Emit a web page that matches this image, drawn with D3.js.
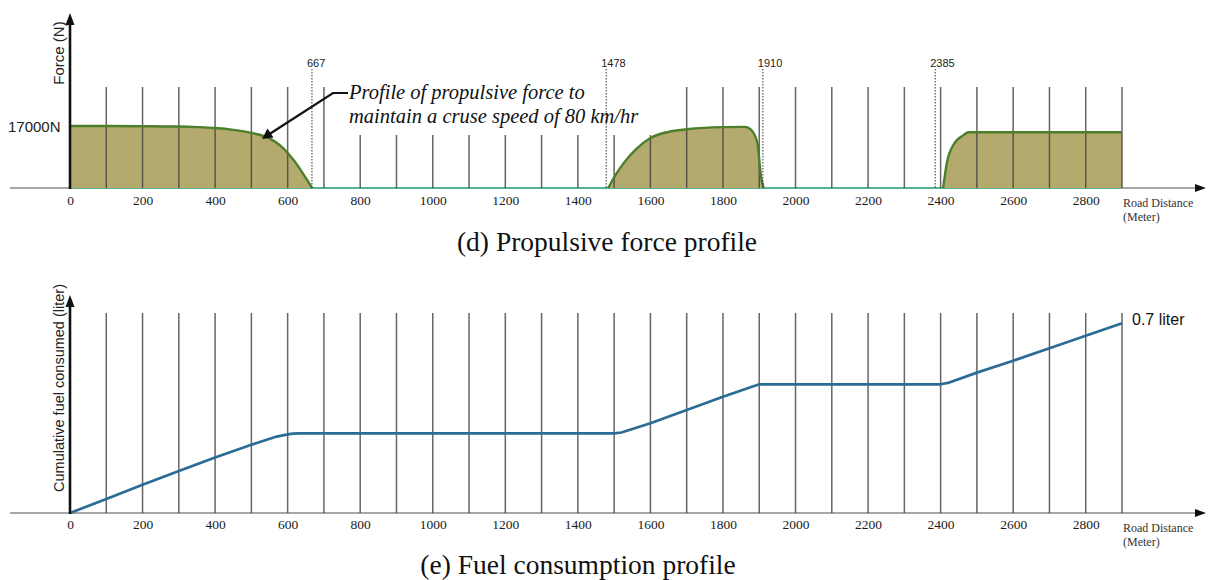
<!DOCTYPE html>
<html>
<head>
<meta charset="utf-8">
<script src="https://cdn.jsdelivr.net/npm/d3@7"></script>
<style>
  html, body { margin: 0; padding: 0; background: #fff; }
  svg { display: block; }
</style>
</head>
<body>
<svg id="chart" width="1208" height="580"></svg>
<script>
// Road distance (m) ticks and grid positions
const xTickValues = [0, 200, 400, 600, 800, 1000, 1200, 1400, 1600, 1800, 2000, 2200, 2400, 2600, 2800];
const gridDistances = [100, 200, 300, 400, 500, 600, 700, 800, 900, 1000, 1100, 1200, 1300, 1400, 1500,
  1600, 1700, 1800, 1900, 2000, 2100, 2200, 2300, 2400, 2500, 2600, 2700, 2800, 2900];

// Distances where propulsion switches on/off
const markerDistances = [667, 1478, 1910, 2385];

// Propulsive force profile (N) along the road
const forceDist = [0, 100, 200, 300, 350, 400, 450, 500, 550, 580, 600, 620, 640, 655, 667,
  1484, 1504, 1530, 1560, 1600, 1650, 1700, 1800, 1860, 1880, 1895, 1905, 1912,
  2407, 2417, 2435, 2463, 2477, 2500, 2900];
const forceVal = [17000, 16990, 16950, 16850, 16700, 16450, 15950, 15100, 13600, 11600, 9600, 7200, 4300, 2000, 0,
  0, 3600, 7300, 10600, 13700, 15400, 16100, 16700, 16750, 15700, 12200, 3100, 0,
  0, 6800, 11800, 14500, 15270, 15300, 15300];

// Cumulative fuel consumed (liter) along the road
const fuelDist = [0, 100, 200, 300, 400, 500, 570, 600, 615, 630, 1500, 1520, 1600, 1700, 1800, 1900,
  2400, 2420, 2500, 2600, 2700, 2800, 2900];
const fuelVal = [0, 0.052, 0.104, 0.155, 0.205, 0.252, 0.282, 0.290, 0.293, 0.294, 0.294, 0.297, 0.331, 0.380, 0.429, 0.475,
  0.475, 0.480, 0.518, 0.562, 0.608, 0.654, 0.700];

const svg = d3.select("#chart");
const SANS = "'Liberation Sans', Arial, sans-serif";
const SERIF = "'Liberation Serif', 'Times New Roman', serif";

const x = d3.scaleLinear().domain([0, 2900]).range([70, 1122]);

// ---------- helpers ----------
function drawXAxis(baseY, labelY) {
  // axis line with arrow
  svg.append("line").attr("x1", 10).attr("x2", 1197).attr("y1", baseY).attr("y2", baseY)
    .attr("stroke", "#8a8a8a").attr("stroke-width", 1.6);
  svg.append("path").attr("d", `M1206,${baseY} L1195,${baseY - 4} L1195,${baseY + 4} Z`).attr("fill", "#111");
  const ax = svg.append("g").attr("transform", `translate(0,${labelY})`)
    .call(d3.axisBottom(x).tickValues(xTickValues).tickSize(0).tickPadding(0).tickFormat(d3.format("d")));
  ax.select(".domain").remove();
  ax.selectAll("text").style("font-family", SERIF).style("font-size", "13.5px").attr("fill", "#1a1a1a").attr("dy", 0);
  const t = svg.append("text").style("font-family", SERIF).style("font-size", "12px").attr("fill", "#333");
  t.append("tspan").attr("x", 1123).attr("y", baseY + 19).text("Road Distance");
  t.append("tspan").attr("x", 1123).attr("y", baseY + 33).text("(Meter)");
}
function drawYAxis(baseY, tipY) {
  svg.append("line").attr("x1", 70).attr("x2", 70).attr("y1", baseY + 1).attr("y2", tipY + 8)
    .attr("stroke", "#111").attr("stroke-width", 2.6);
  svg.append("path").attr("d", `M70,${tipY} L65.5,${tipY + 12} L74.5,${tipY + 12} Z`).attr("fill", "#111");
}

// ================= (d) Propulsive force profile =================
const base0 = 188, gridTall0 = 87, gridShort0 = 135;
const yF = d3.scaleLinear().domain([0, 17000]).range([base0, 126]);

drawXAxis(base0, 215 - 10);

// teal zero-force trace along the road
svg.append("line").attr("x1", x(0)).attr("x2", x(2900)).attr("y1", base0).attr("y2", base0)
  .attr("stroke", "#55b38f").attr("stroke-width", 2);

// split the profile into its powered stretches
const pts = forceDist.map((d, i) => ({ d, v: forceVal[i] }));
const segs = [];
let cur = [];
pts.forEach((p, i) => {
  if (i > 0 && p.v === 0 && pts[i - 1].v === 0) { segs.push(cur); cur = []; }
  cur.push(p);
});
segs.push(cur);

const area = d3.area().x(p => x(p.d)).y0(base0).y1(p => yF(p.v)).curve(d3.curveMonotoneX);
const line = d3.line().x(p => x(p.d)).y(p => yF(p.v)).curve(d3.curveMonotoneX);

segs.forEach(s => {
  svg.append("path").attr("d", area(s)).attr("fill", "#b5aa6e");
});

// vertical grid lines (shorter ones leave room for the annotation)
svg.append("g").selectAll("line").data(gridDistances).join("line")
  .attr("x1", d => x(d)).attr("x2", d => x(d))
  .attr("y1", base0)
  .attr("y2", d => (d >= 800 && d <= 1600) ? gridShort0 : gridTall0)
  .attr("stroke", "#3e3e3e").attr("stroke-opacity", 0.8).attr("stroke-width", 1.5);

segs.forEach(s => {
  svg.append("path").attr("d", line(s)).attr("fill", "none")
    .attr("stroke", "#4b7f2c").attr("stroke-width", 2.4);
});

// switch-point markers
const mk = svg.append("g").selectAll("g").data(markerDistances).join("g");
mk.append("line").attr("x1", d => x(d)).attr("x2", d => x(d)).attr("y1", 69).attr("y2", base0)
  .attr("stroke", "#333").attr("stroke-width", 1).attr("stroke-dasharray", "1.5,1.5");
mk.append("text").attr("x", d => x(d) - 5).attr("y", 67).text(d => d)
  .style("font-family", SANS).style("font-size", "11px").attr("fill", "#222");

drawYAxis(base0, 13);

svg.append("text").attr("transform", "translate(64,53) rotate(-90)").attr("text-anchor", "middle")
  .style("font-family", SANS).style("font-size", "15px").attr("fill", "#222").text("Force (N)");
svg.append("text").attr("x", 8).attr("y", 132).style("font-family", SANS).style("font-size", "15px")
  .attr("fill", "#222").text("17000N");

// annotation
svg.append("path").attr("d", "M348,93 L333,93 L268,135").attr("fill", "none")
  .attr("stroke", "#111").attr("stroke-width", 2.2);
svg.append("path").attr("d", "M262,139 L267.5,128.5 L273.5,137.5 Z").attr("fill", "#111");
const ann = svg.append("text").style("font-family", SERIF).style("font-style", "italic")
  .style("font-size", "20.5px").attr("fill", "#111");
ann.append("tspan").attr("x", 349).attr("y", 99).text("Profile of propulsive force to");
ann.append("tspan").attr("x", 349).attr("y", 123).text("maintain a cruse speed of 80 km/hr");

svg.append("text").attr("x", 607).attr("y", 251).attr("text-anchor", "middle")
  .style("font-family", SERIF).style("font-size", "27.5px").attr("fill", "#111").text("(d) Propulsive force profile");

// ================= (e) Fuel consumption profile =================
const base1 = 513, gridTop1 = 313;
const yL = d3.scaleLinear().domain([0, 0.7]).range([base1, 323.3]);

drawXAxis(base1, 539 - 10);

svg.append("g").selectAll("line").data(gridDistances).join("line")
  .attr("x1", d => x(d)).attr("x2", d => x(d))
  .attr("y1", base1).attr("y2", gridTop1)
  .attr("stroke", "#3e3e3e").attr("stroke-opacity", 0.8).attr("stroke-width", 1.5);

const fuelLine = d3.line().x(d => x(d)).y((d, i) => yL(fuelVal[i]));
svg.append("path").attr("d", fuelLine(fuelDist)).attr("fill", "none")
  .attr("stroke", "#2a6c93").attr("stroke-width", 2.7).attr("stroke-linejoin", "round");

drawYAxis(base1, 295);

svg.append("text").attr("transform", "translate(64,388) rotate(-90)").attr("text-anchor", "middle")
  .style("font-family", SANS).style("font-size", "14.5px").attr("fill", "#222").text("Cumulative fuel consumed (liter)");

svg.append("text").attr("x", x(2900) + 10).attr("y", yL(fuelVal[fuelVal.length - 1]) + 2)
  .style("font-family", SANS).style("font-size", "16px").attr("fill", "#111").text("0.7 liter");

svg.append("text").attr("x", 578).attr("y", 574).attr("text-anchor", "middle")
  .style("font-family", SERIF).style("font-size", "27.5px").attr("fill", "#111").text("(e) Fuel consumption profile");
</script>
</body>
</html>
